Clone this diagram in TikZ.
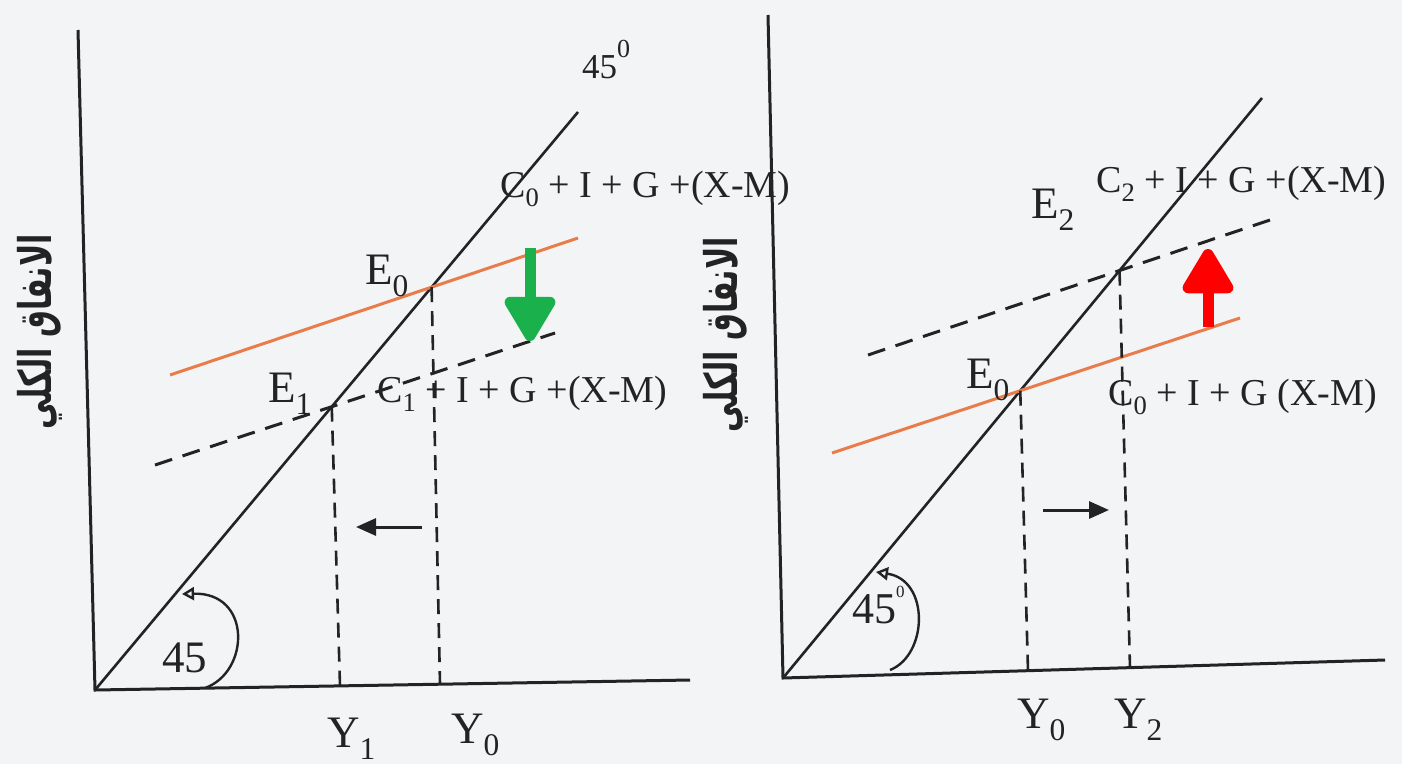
\documentclass[tikz,border=0pt]{standalone}
\usepackage{fontspec}
\setmainfont{Liberation Serif}
\newfontfamily\arabicfont[Script=Arabic]{DejaVu Sans}
\TeXXeTstate=1
\usetikzlibrary{arrows.meta,intersections}
\definecolor{bgcol}{RGB}{243,244,246}
\definecolor{orangeline}{RGB}{232,125,75}
\definecolor{greenarrow}{RGB}{26,176,75}
\definecolor{redarrow}{RGB}{255,0,0}
\definecolor{ink}{RGB}{35,35,35}
\newcommand\degz[2]{\raisebox{#2}{\fontsize{#1}{#1}\selectfont 0}}
\newcommand\arabictall[1]{\scalebox{1}[1.5]{\beginR #1\endR}}
\tikzset{
  axis/.style={line width=3pt, ink},
  diag/.style={line width=2.6pt, ink},
  agg/.style={line width=3pt, orangeline},
  aggd/.style={line width=3pt, ink, dash pattern=on 18pt off 11pt},
  drop/.style={line width=2.6pt, ink, dash pattern=on 15pt off 9pt},
  shift arrow/.style={line width=3pt, ink, -{Triangle[width=17pt,length=20pt]}},
  angarc/.style={line width=2.4pt, ink, -{Triangle[open,width=13pt,length=12pt]}},
  big arrow/.style={line width=11pt, -{Triangle[width=56pt,length=50pt,round]}},
  clabel/.style={font=\fontsize{38}{44}\selectfont, inner sep=0pt, anchor=base west, text=ink},
  elabel/.style={font=\fontsize{45}{52}\selectfont, inner sep=0pt, anchor=base west, text=ink},
  arlabel/.style={font=\arabicfont\bfseries\fontsize{30}{36}\selectfont, inner sep=0pt, rotate=90, text=ink},
}
\begin{document}
\begin{tikzpicture}[x=1pt,y=-1pt]
\fill[bgcol] (0,0) rectangle (1402,764);
\useasboundingbox (0,0) rectangle (1402,764);

% ---------- left panel ----------
\coordinate (O1) at (95,690);
\coordinate (Y1top) at (78,30);
\coordinate (X1end) at (690,680);
\coordinate (L1end) at (578,112);
\coordinate (A1s) at (170,375);
\coordinate (A1e) at (578,238);
\coordinate (B1s) at (155,465);
\coordinate (B1e) at (555,333);

\draw[axis] (Y1top) -- (O1) -- (X1end);
\draw[diag, name path=l1] (O1) -- (L1end);
\draw[agg, name path=a1] (A1s) -- (A1e);
\draw[aggd, name path=b1] (B1s) -- (B1e);
\path[name intersections={of=l1 and a1, by=E0L}];
\path[name intersections={of=l1 and b1, by=E1L}];
\coordinate (E0Lb) at (440,684);
\coordinate (E1Lb) at (340,686);
\draw[drop] (E0L) -- (E0Lb);
\draw[drop] (E1L) -- (E1Lb);

\coordinate (s1a) at (422,527);
\coordinate (s1b) at (356,527);
\draw[shift arrow] (s1a) -- (s1b);

\coordinate (g1a) at (530,248);
\coordinate (g1b) at (530,341);
\draw[big arrow, greenarrow] (g1a) -- (g1b);

\coordinate (arc1s) at (205,688);
\coordinate (arc1e) at (182,594);
\draw[angarc] (arc1s) .. controls (250,672) and (252,592) .. (arc1e);

\node[elabel] (n45a) at (162,672) {45};
\node[clabel, font=\fontsize{35}{40}\selectfont] (n45top) at (582,78) {45\degz{26}{21pt}};
\node[elabel] (lE0) at (365,284) {E\textsubscript{0}};
\node[elabel] (lE1) at (268,402) {E\textsubscript{1}};
\node[clabel] (lC0) at (500,197) {C\textsubscript{0} + I + G +(X-M)};
\node[clabel] (lC1) at (377,402) {C\textsubscript{1} + I + G +(X-M)};
\node[elabel] (lY1) at (327,747) {Y\textsubscript{1}};
\node[elabel] (lY0) at (451,743) {Y\textsubscript{0}};
\node[arlabel] (ar1) at (40,332) {\arabictall{الانفاق الكلي}};

% ---------- right panel ----------
\coordinate (O2) at (783,678);
\coordinate (Y2top) at (768,15);
\coordinate (X2end) at (1385,660);
\coordinate (L2end) at (1262,98);
\coordinate (A2s) at (832,453);
\coordinate (A2e) at (1240,318);
\coordinate (B2s) at (868,355);
\coordinate (B2e) at (1270,220);

\draw[axis] (Y2top) -- (O2) -- (X2end);
\draw[diag, name path=l2] (O2) -- (L2end);
\draw[agg, name path=a2] (A2s) -- (A2e);
\draw[aggd, name path=b2] (B2s) -- (B2e);
\path[name intersections={of=l2 and a2, by=E0R}];
\path[name intersections={of=l2 and b2, by=E2R}];
\coordinate (E0Rb) at (1028,671);
\coordinate (E2Rb) at (1130,668);
\draw[drop] (E0R) -- (E0Rb);
\draw[drop] (E2R) -- (E2Rb);

\coordinate (s2a) at (1043,510);
\coordinate (s2b) at (1109,510);
\draw[shift arrow] (s2a) -- (s2b);

\coordinate (r2a) at (1208,327);
\coordinate (r2b) at (1208,249);
\draw[big arrow, redarrow] (r2a) -- (r2b);

\coordinate (arc2s) at (890,670);
\coordinate (arc2e) at (876,572);
\draw[angarc] (arc2s) .. controls (928,655) and (930,580) .. (arc2e);

\node[elabel, font=\fontsize{44}{50}\selectfont] (n45b) at (852,623) {45\degz{17}{26pt}};
\node[elabel] (rE2) at (1031,218) {E\textsubscript{2}};
\node[elabel] (rE0) at (966,388) {E\textsubscript{0}};
\node[clabel] (rC2) at (1096,192) {C\textsubscript{2} + I + G +(X-M)};
\node[clabel] (rC0) at (1108,405) {C\textsubscript{0} + I + G (X-M)};
\node[elabel] (rY0) at (1017,728) {Y\textsubscript{0}};
\node[elabel] (rY2) at (1114,728) {Y\textsubscript{2}};
\node[arlabel] (ar2) at (726,335) {\arabictall{الانفاق الكلي}};
\end{tikzpicture}
\end{document}
